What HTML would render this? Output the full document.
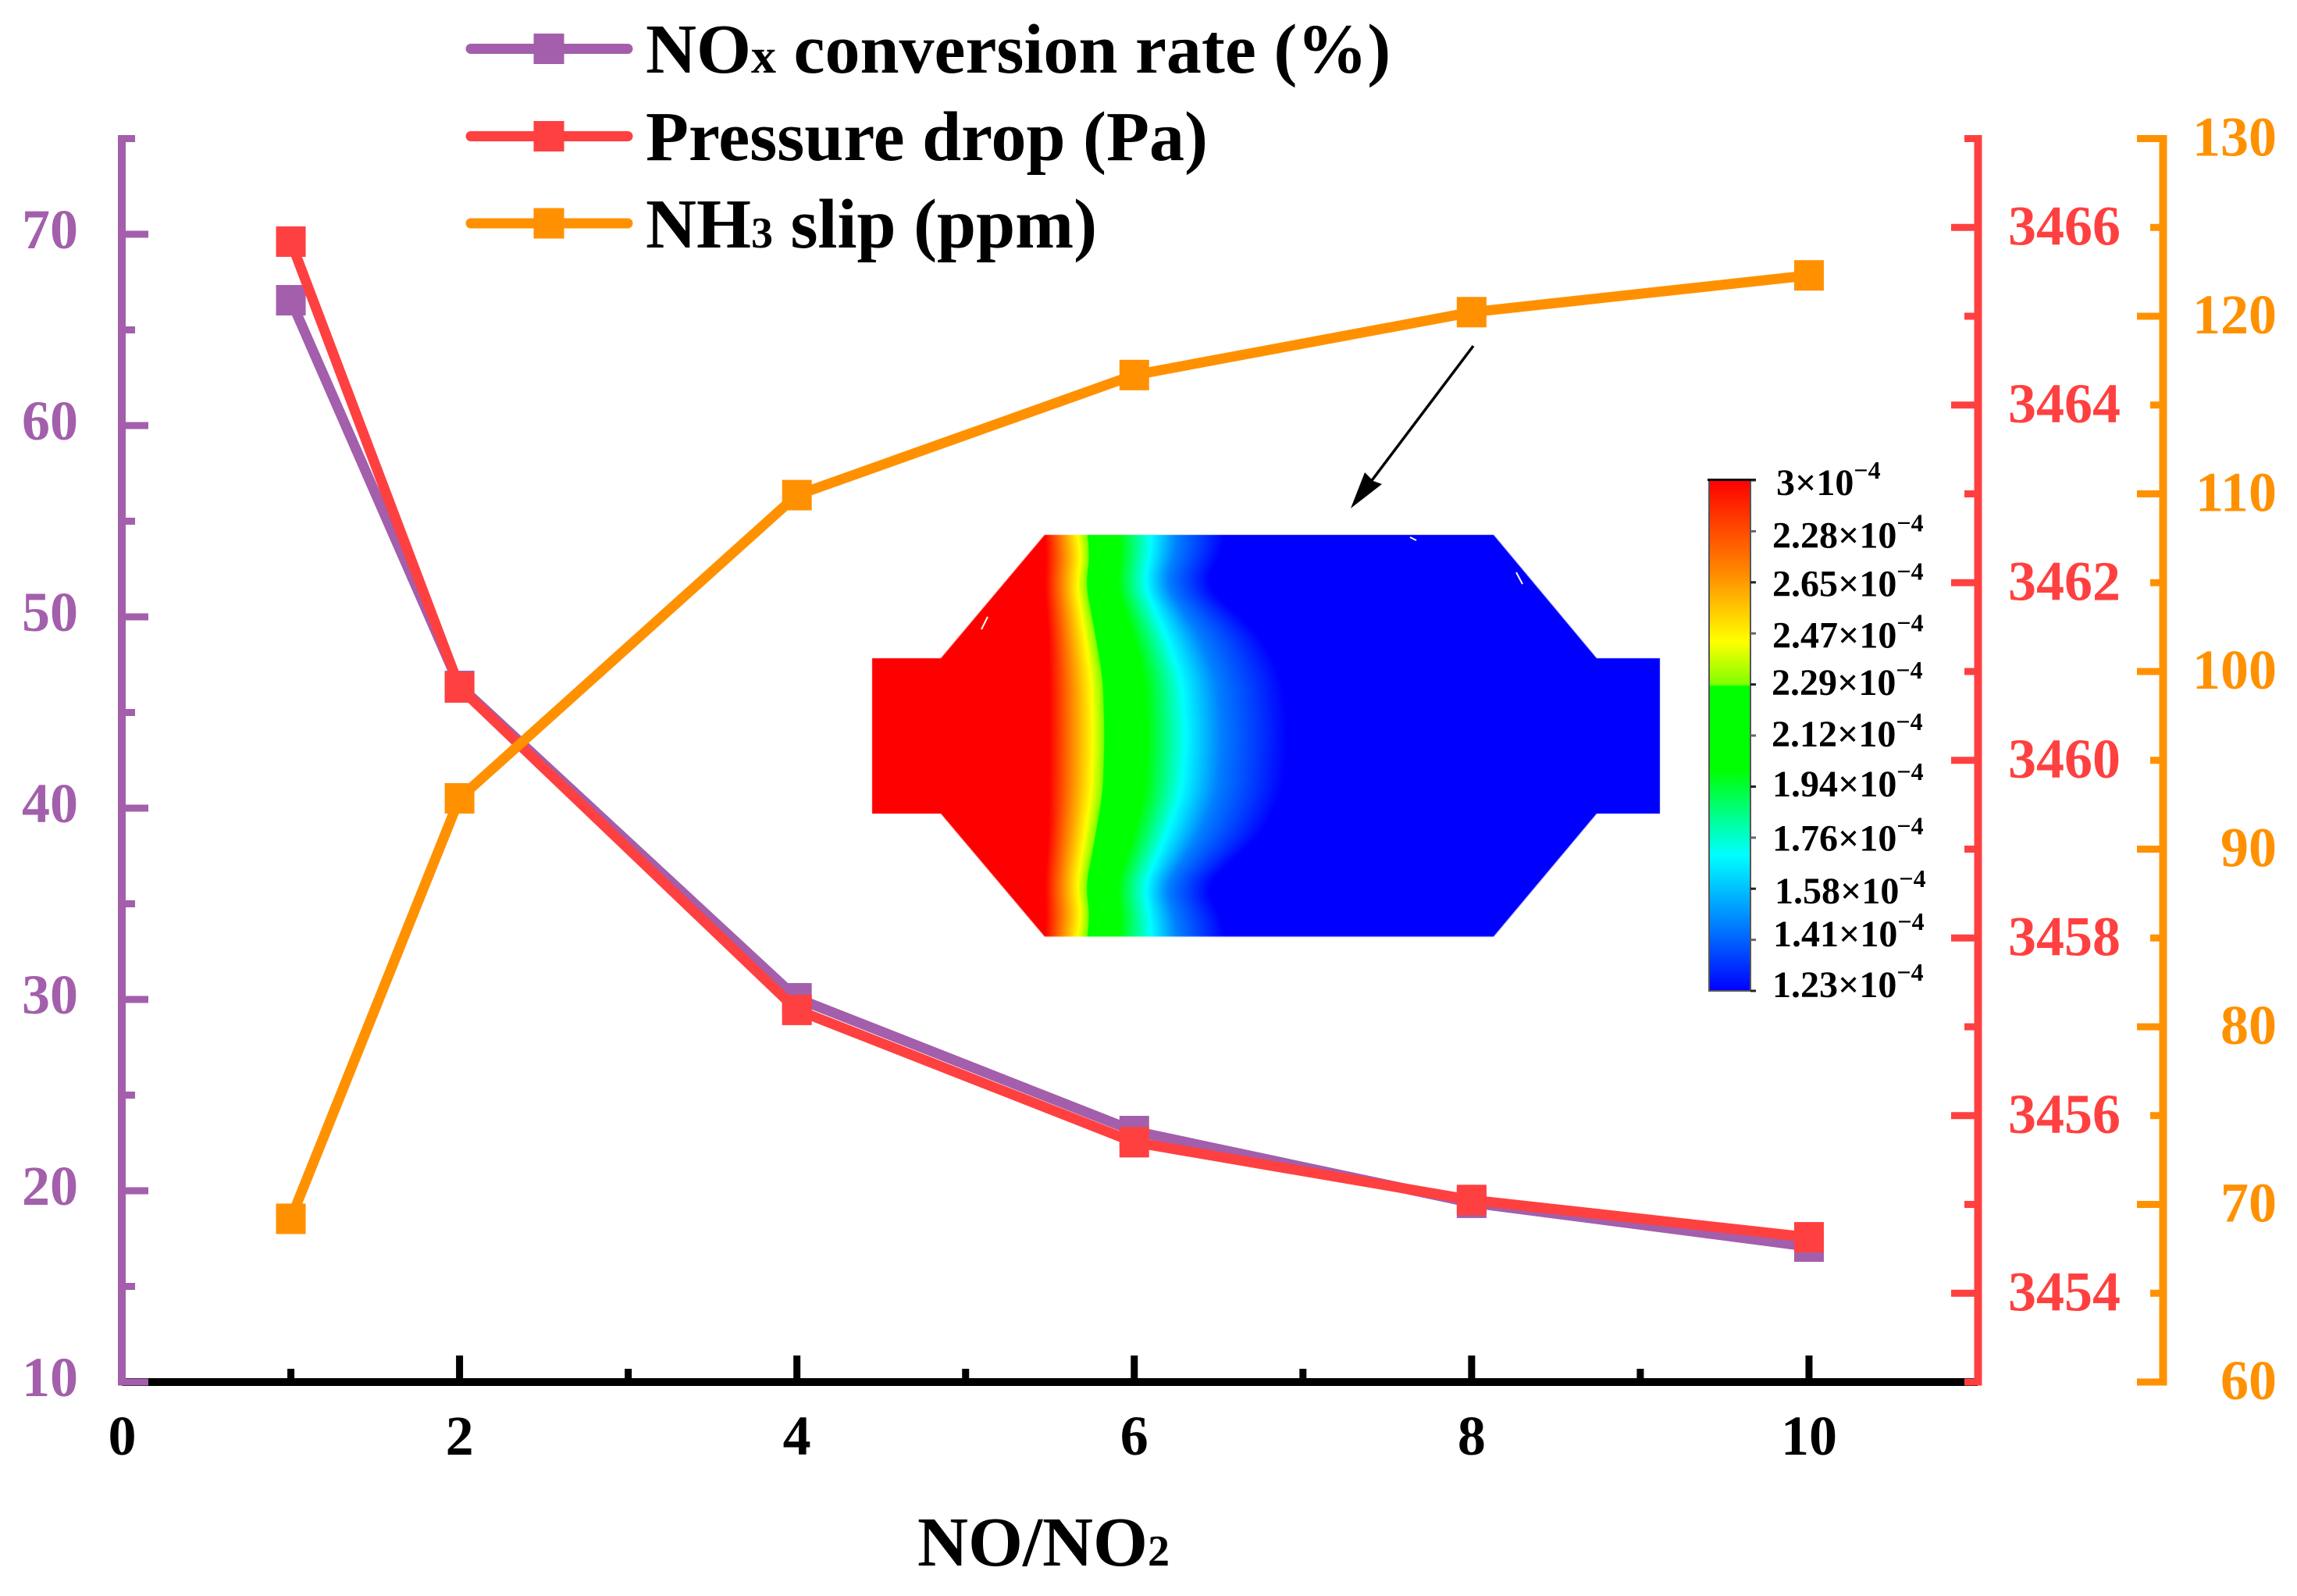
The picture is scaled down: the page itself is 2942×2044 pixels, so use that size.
<!DOCTYPE html>
<html lang="en">
<head>
<meta charset="utf-8">
<title>NOx conversion, pressure drop and NH3 slip vs NO/NO2</title>
<style>
html,body{margin:0;padding:0;background:#fff;}
#stage{position:relative;width:2942px;height:2044px;overflow:hidden;background:#fff;}
#contour{position:absolute;left:1100px;top:670px;}
#chart{position:absolute;left:0;top:0;}
text{font-family:"Liberation Serif",serif;font-weight:bold;}
</style>
</head>
<body>
<div id="stage">
<canvas id="contour" width="1050" height="550"></canvas>
<svg id="chart" width="2942" height="2044" viewBox="0 0 2942 2044" xmlns="http://www.w3.org/2000/svg">
  <defs>
    <linearGradient id="cbar" x1="0" y1="0" x2="0" y2="1">
      <stop offset="0" stop-color="#ff0000"/>
      <stop offset="0.17" stop-color="#ff8000"/>
      <stop offset="0.316" stop-color="#ffff00"/>
      <stop offset="0.40" stop-color="#80ff00"/>
      <stop offset="0.404" stop-color="#00ff00"/>
      <stop offset="0.566" stop-color="#00ff00"/>
      <stop offset="0.65" stop-color="#00ff80"/>
      <stop offset="0.734" stop-color="#00ffff"/>
      <stop offset="0.87" stop-color="#0080ff"/>
      <stop offset="1" stop-color="#0000ff"/>
    </linearGradient>
  </defs>

  <g id="axes"></g>
  <g id="series"></g>

  <g>
    <line x1="1806" y1="688" x2="1814" y2="692" stroke="#fff" stroke-width="2"/>
    <line x1="1942" y1="733" x2="1950" y2="748" stroke="#fff" stroke-width="2"/>
    <line x1="1265" y1="790" x2="1257" y2="806" stroke="#fff" stroke-width="2"/>
  </g>

  <g>
    <g>
      <line x1="603" y1="62.5" x2="804" y2="62.5" stroke="#a35fab" stroke-width="13" stroke-linecap="round"/>
      <rect x="683.5" y="43" width="39" height="39" fill="#a35fab"/>
      <text x="827" y="93" font-size="90" fill="#000">NO<tspan font-size="64">x</tspan> conversion rate (%)</text>
    </g>
    <g>
      <line x1="603" y1="174.5" x2="804" y2="174.5" stroke="#ff4040" stroke-width="13" stroke-linecap="round"/>
      <rect x="683.5" y="155" width="39" height="39" fill="#ff4040"/>
      <text x="827" y="205" font-size="90" fill="#000">Pressure drop (Pa)</text>
    </g>
    <g>
      <line x1="603" y1="286" x2="804" y2="286" stroke="#ff9100" stroke-width="13" stroke-linecap="round"/>
      <rect x="683.5" y="266.5" width="39" height="39" fill="#ff9100"/>
      <text x="827" y="317" font-size="90" fill="#000">NH<tspan font-size="56">3</tspan> slip (ppm)</text>
    </g>
  </g>

  <text x="1175" y="2005" font-size="90" fill="#000">NO/NO<tspan font-size="56">2</tspan></text>

  <g>
    <line x1="1887" y1="443" x2="1755" y2="618" stroke="#000" stroke-width="3.5"/>
    <polygon points="1730,651 1748,605 1759,616 1770,620" fill="#000"/>
  </g>

  <g>
    <rect x="2189" y="615" width="53" height="654" fill="url(#cbar)" stroke="#555" stroke-width="2"/>
    <rect x="2187" y="613" width="62" height="3" fill="#000"/>
    <g id="cbarTicks"></g>
    <g font-size="48" fill="#000">
      <text x="2275" y="634">3×10<tspan font-size="32" dy="-21">−4</tspan></text>
      <text x="2270" y="701.5">2.28×10<tspan font-size="32" dy="-21">−4</tspan></text>
      <text x="2270" y="763.5">2.65×10<tspan font-size="32" dy="-21">−4</tspan></text>
      <text x="2270" y="829.5">2.47×10<tspan font-size="32" dy="-21">−4</tspan></text>
      <text x="2269" y="890">2.29×10<tspan font-size="32" dy="-21">−4</tspan></text>
      <text x="2269" y="956">2.12×10<tspan font-size="32" dy="-21">−4</tspan></text>
      <text x="2270" y="1020">1.94×10<tspan font-size="32" dy="-21">−4</tspan></text>
      <text x="2270" y="1089.5">1.76×10<tspan font-size="32" dy="-21">−4</tspan></text>
      <text x="2273" y="1157">1.58×10<tspan font-size="32" dy="-21">−4</tspan></text>
      <text x="2271" y="1212">1.41×10<tspan font-size="32" dy="-21">−4</tspan></text>
      <text x="2270" y="1277">1.23×10<tspan font-size="32" dy="-21">−4</tspan></text>
    </g>
  </g>
</svg>
</div>

<script>
// ---- chart data ----
const categories = [1, 2, 4, 6, 8, 10];
const noxConversion = [66.55, 46.39, 30.06, 23.12, 19.37, 17.08];
const pressureDrop = [3465.84, 3460.82, 3457.19, 3455.70, 3455.05, 3454.63];
const nh3Slip = [69.19, 92.86, 109.93, 116.69, 120.23, 122.30];
const xTickLabels = [0, 2, 4, 6, 8, 10];
const xMinorTicks = [1, 3, 5, 7, 9];
const noxTickLabels = [10, 20, 30, 40, 50, 60, 70];
const noxMinorTicks = [15, 25, 35, 45, 55, 65, 75];
const pressureTickLabels = [3454, 3456, 3458, 3460, 3462, 3464, 3466];
const pressureMinorTicks = [3453, 3455, 3457, 3459, 3461, 3463, 3465, 3467];
const nh3TickLabels = [60, 70, 80, 90, 100, 110, 120, 130];
const nh3MinorTicks = [65, 75, 85, 95, 105, 115, 125];
const xDomain = [0, 11];
const noxDomain = [10, 75];
const pressureDomain = [3453, 3467];
const nh3Domain = [60, 130];

// ---- axis functions ----
const NS = 'http://www.w3.org/2000/svg';
const plotBottom = 1770, plotTop = 177.5, plotLeft = 156.5, plotRight = 2533;
const xPos = v => plotLeft + (v - xDomain[0]) / (xDomain[1] - xDomain[0]) * (plotRight - plotLeft);
const yScale = d => v => plotBottom - (v - d[0]) / (d[1] - d[0]) * (plotBottom - plotTop);
const yNox = yScale(noxDomain);
const yPressure = yScale(pressureDomain);
const yNh3 = yScale(nh3Domain);

const COLORS = { nox: '#a35fab', pressure: '#ff4040', nh3: '#ff9100' };
const axesG = document.getElementById('axes');
const seriesG = document.getElementById('series');

function svgEl(tag, attrs, parent) {
  const el = document.createElementNS(NS, tag);
  for (const k in attrs) el.setAttribute(k, attrs[k]);
  parent.appendChild(el);
  return el;
}

// x axis
const xLine = svgEl('line', { x1: plotLeft, y1: plotBottom, x2: plotRight, y2: plotBottom, stroke: '#000', 'stroke-width': 10 }, axesG);


xTickLabels.forEach(v => {
  const t = svgEl('rect', { x: xPos(v) - 4.5, y: 1736, width: 9, height: 30, fill: '#000' }, axesG);
  
  
  const l = svgEl('text', { x: xPos(v), y: 1863, 'font-size': 72, fill: '#000', 'text-anchor': 'middle' }, axesG);
  
  
  l.textContent = v;
});
xMinorTicks.forEach(v => {
  const t = svgEl('rect', { x: xPos(v) - 4.5, y: 1753, width: 9, height: 13, fill: '#000' }, axesG);
  
  
});

// y axes: one config per axis
const yAxes = [
  { key: 'nox', y: yNox, axisX: 156, dir: 1, major: 34, minor: 17, ticks: noxTickLabels, minors: noxMinorTicks, labelX: 100, anchor: 'end', labelDy: 18 },
  { key: 'pressure', y: yPressure, axisX: 2533.5, dir: -1, major: 34.5, minor: 17.5, ticks: pressureTickLabels, minors: pressureMinorTicks, labelX: 2572, anchor: 'start', labelDy: 22 },
  { key: 'nh3', y: yNh3, axisX: 2770.5, dir: -1, major: 33.5, minor: 16.5, ticks: nh3TickLabels, minors: nh3MinorTicks, labelX: 2916, anchor: 'end', labelDy: 22 }
];
yAxes.forEach(a => {
  const color = COLORS[a.key];
  const spine = svgEl('rect', { x: a.axisX - 5, y: plotTop - 4.5, width: 10, height: plotBottom - plotTop + 9, fill: color }, axesG);
  
  
  const drawTick = (v, len) => {
    const x0 = a.dir > 0 ? a.axisX : a.axisX - len;
    return svgEl('rect', { x: x0, y: a.y(v) - 4.5, width: len, height: 9, fill: color }, axesG);
  };
  a.ticks.forEach(v => {
    const t = drawTick(v, a.major);
    
    
    const l = svgEl('text', { x: a.labelX, y: a.y(v) + a.labelDy, 'font-size': 72, fill: color, 'text-anchor': a.anchor }, axesG);
    
    
    l.textContent = v;
  });
  a.minors.forEach(v => {
    const t = drawTick(v, a.minor);
    
    
  });
});

// series, back to front
const seriesList = [
  { key: 'nox', values: noxConversion, y: yNox },
  { key: 'pressure', values: pressureDrop, y: yPressure },
  { key: 'nh3', values: nh3Slip, y: yNh3 }
];
seriesList.forEach(s => {
  const pts = s.values.map((v, i) => xPos(categories[i]).toFixed(1) + ',' + s.y(v).toFixed(1)).join(' ');
  const line = svgEl('polyline', { points: pts, fill: 'none', stroke: COLORS[s.key], 'stroke-width': 13, 'stroke-linejoin': 'round' }, seriesG);
  
  
  s.values.forEach((v, i) => {
    const m = svgEl('rect', { x: xPos(categories[i]) - 19, y: s.y(v) - 19.5, width: 38, height: 39, fill: COLORS[s.key] }, seriesG);
    
    
  });
});

// colorbar ticks
const cbarTicks = document.getElementById('cbarTicks');
for (let i = 0; i <= 10; i++) {
  const t = svgEl('rect', { x: 2242, y: 615 + i * 65.4 - 1.5, width: 7, height: 3, fill: i % 2 ? '#666' : '#222' }, cbarTicks);
  
  
}

// contour picture
(function drawContour() {
  const cv = document.getElementById('contour');
  const ctx = cv.getContext('2d');
  const ox = 1100, oy = 670;
  const outline = [[1117,843],[1205,843],[1338,685],[1913,685],[2045,843],[2126,843],[2126,1042],[2045,1042],[1913,1199.5],[1338,1199.5],[1205,1042],[1117,1042]];
  // distance from mid-height : band edges in page px [red end, yellow, green start, green end, cyan, blue]
  const rows = [
    [0,   1344,1400,1415,1469,1519,1650],
    [70,  1344,1398,1413,1466,1514,1644],
    [125, 1343,1390,1404,1452,1495,1618],
    [194, 1338,1379,1391,1429,1465,1542],
    [235, 1340,1386,1397,1436,1474,1566],
    [258, 1338,1378,1392,1432,1474,1569]
  ];
  function linear(d) {
    for (let i = 0; i < rows.length - 1; i++) {
      if (d <= rows[i + 1][0]) {
        const t = (d - rows[i][0]) / (rows[i + 1][0] - rows[i][0]);
        return rows[i].map((v, k) => v + (rows[i + 1][k] - v) * t).slice(1);
      }
    }
    return rows[rows.length - 1].slice(1);
  }
  function edges(y) {
    // moving average along the channel height keeps the band edges smooth
    const sum = [0, 0, 0, 0, 0, 0];
    let n = 0;
    for (let s = -20; s <= 20; s += 2) {
      const e = linear(Math.abs(y + s - 942));
      e.forEach((v, k) => { sum[k] += v; });
      n++;
    }
    return sum.map(v => v / n);
  }
  ctx.beginPath();
  outline.forEach((p, i) => { const x = p[0] - ox, y = p[1] - oy; i ? ctx.lineTo(x, y) : ctx.moveTo(x, y); });
  ctx.closePath();
  ctx.clip();
  const x0 = 1117, x1 = 2126, W = x1 - x0;
  const f = x => Math.min(1, Math.max(0, (x - x0) / W));
  for (let y = 680; y < 1205; y++) {
    const e = edges(y + 0.5);
    const g = ctx.createLinearGradient(x0 - ox, 0, x1 - ox, 0);
    g.addColorStop(f(e[0]), '#ff0000');
    g.addColorStop(f(e[0] + (e[1] - e[0]) * 0.5), '#ff8000');
    g.addColorStop(f(e[1]), '#ffff00');
    g.addColorStop(f(e[2] - 1), '#80ff00');
    g.addColorStop(f(e[2]), '#00ff00');
    g.addColorStop(f(e[3]), '#00ff00');
    g.addColorStop(f(e[3] + (e[4] - e[3]) * 0.5), '#00ff80');
    g.addColorStop(f(e[4]), '#00ffff');
    g.addColorStop(f(e[4] + (e[5] - e[4]) * 0.35), '#0080ff');
    g.addColorStop(f(e[5]), '#0000ff');
    ctx.fillStyle = g;
    ctx.fillRect(0, y - oy, cv.width, 1);
  }
})();
</script>
</body>
</html>
